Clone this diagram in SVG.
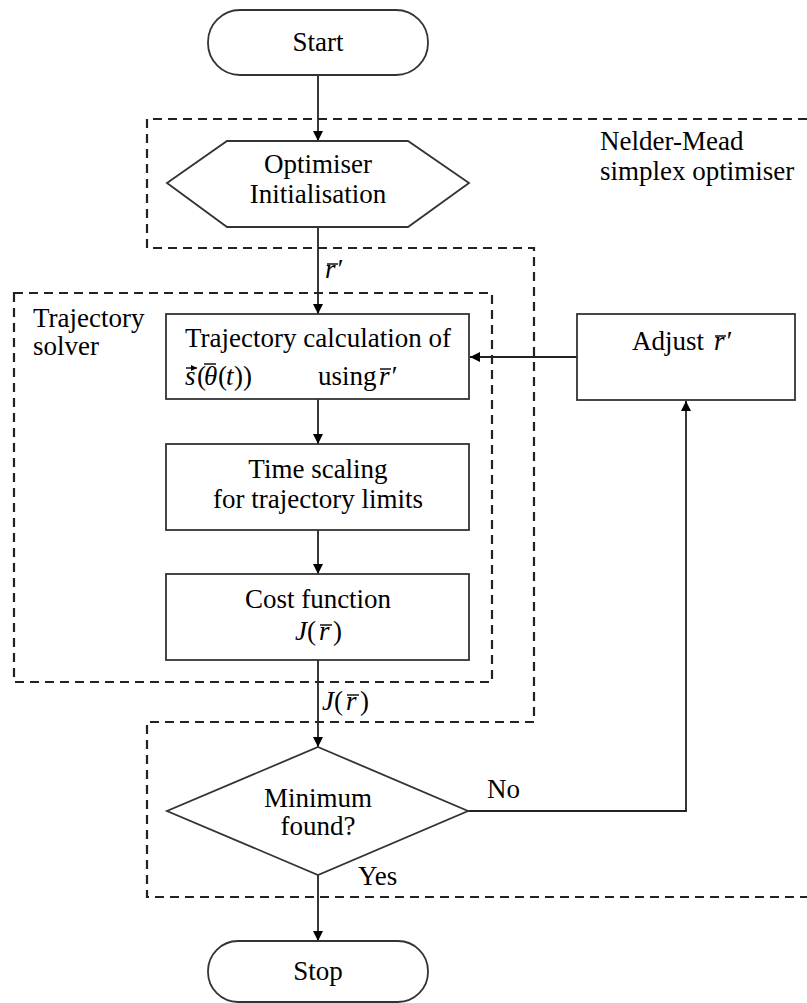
<svg xmlns="http://www.w3.org/2000/svg" width="807" height="1003" viewBox="0 0 807 1003">
<style>
.t{font-family:'Liberation Serif','Times New Roman','DejaVu Serif',serif;font-size:27px;fill:#000}
.m{font-family:'Liberation Serif','Times New Roman','DejaVu Serif',serif;font-size:27px;font-style:italic;fill:#000}
.c{text-anchor:middle}
.box{fill:#fff;stroke:#333;stroke-width:1.8}
.dash{fill:none;stroke:#222;stroke-width:2.2;stroke-dasharray:9,6}
.ln{fill:none;stroke:#222;stroke-width:1.8}
.bar{stroke:#000;stroke-width:1.4}
</style>
<defs>
<marker id="ah" viewBox="0 0 10 10" refX="10" refY="5" markerWidth="10" markerHeight="12" markerUnits="userSpaceOnUse" orient="auto">
<path d="M0,0 L10,5 L0,10 z" fill="#000"/>
</marker>
<marker id="ah2" viewBox="0 0 10 10" refX="10" refY="5" markerWidth="6" markerHeight="6" markerUnits="userSpaceOnUse" orient="auto">
<path d="M0,0 L10,5 L0,10 z" fill="#000"/>
</marker>
</defs>

<g id="regions">
<path class="dash" d="M807,119 L147,119 L147,248 L534,248 L534,722 L147,722 L147,897 L807,897"/>
<rect class="dash" x="14" y="293" width="478" height="389"/>
<text class="t" x="600" y="150">Nelder-Mead</text>
<text class="t" x="600" y="180">simplex optimiser</text>
<text class="t" x="33" y="327">Trajectory</text>
<text class="t" x="33" y="355">solver</text>
</g>

<g id="connectors">
<line class="ln" x1="318" y1="75" x2="318" y2="141" marker-end="url(#ah)"/>
<line class="ln" x1="318" y1="227" x2="318" y2="314" marker-end="url(#ah)"/>
<line class="ln" x1="318" y1="399" x2="318" y2="444" marker-end="url(#ah)"/>
<line class="ln" x1="318" y1="530" x2="318" y2="574" marker-end="url(#ah)"/>
<line class="ln" x1="318" y1="660" x2="318" y2="747" marker-end="url(#ah)"/>
<line class="ln" x1="318" y1="875" x2="318" y2="941" marker-end="url(#ah)"/>
<line class="ln" x1="577" y1="357" x2="470" y2="357" marker-end="url(#ah)"/>
<polyline class="ln" points="468,811 686,811 686,401" marker-end="url(#ah)"/>
<text class="m" x="325" y="278">r</text><text class="m" x="336" y="278">′</text>
<line class="bar" x1="327" y1="264" x2="338" y2="264"/>
<text class="m" x="322" y="710">J</text><text class="t" x="334" y="710">(</text><text class="m" x="346" y="710">r</text><text class="t" x="360" y="710">)</text>
<line class="bar" x1="347" y1="695" x2="359" y2="695"/>
<text class="t" x="487" y="798">No</text>
<text class="t" x="358" y="885">Yes</text>
</g>

<g id="start">
<rect class="box" x="208" y="10" width="220" height="65" rx="32" ry="32"/>
<text class="t c" x="318" y="51">Start</text>
</g>

<g id="init">
<polygon class="box" points="167,183 227,141 408,141 469,183 408,227 227,227"/>
<text class="t c" x="318" y="173">Optimiser</text>
<text class="t c" x="318" y="203">Initialisation</text>
</g>

<g id="trajcalc">
<rect class="box" x="166" y="314" width="303" height="85"/>
<text class="t c" x="318" y="347">Trajectory calculation of</text>
<text class="m" x="185" y="385">s</text>
<line class="bar" x1="186" y1="368" x2="197" y2="368" marker-end="url(#ah2)"/>
<text class="t" x="197" y="385">(</text>
<text class="m" x="204" y="385">θ</text>
<line class="bar" x1="204" y1="364" x2="216" y2="364"/>
<text class="t" x="218" y="385">(</text>
<text class="m" x="226" y="385">t</text>
<text class="t" x="234" y="385">))</text>
<text class="t" x="318" y="385">using</text>
<text class="m" x="379" y="385">r</text>
<text class="m" x="390" y="385">′</text>
<line class="bar" x1="380" y1="369" x2="391" y2="369"/>
</g>

<g id="timescale">
<rect class="box" x="166" y="444" width="303" height="86"/>
<text class="t c" x="318" y="478">Time scaling</text>
<text class="t c" x="318" y="508">for trajectory limits</text>
</g>

<g id="cost">
<rect class="box" x="166" y="574" width="303" height="86"/>
<text class="t c" x="318" y="608">Cost function</text>
<text class="m" x="295" y="640">J</text><text class="t" x="307" y="640">(</text><text class="m" x="319" y="640">r</text><text class="t" x="333" y="640">)</text>
<line class="bar" x1="320" y1="625" x2="332" y2="625"/>
</g>

<g id="adjust">
<rect class="box" x="577" y="314" width="218" height="86"/>
<text class="t" x="632" y="350">Adjust</text>
<text class="m" x="714" y="350">r</text><text class="m" x="725" y="350">′</text>
<line class="bar" x1="715" y1="336" x2="726" y2="336"/>
</g>

<g id="decision">
<polygon class="box" points="318,747 468,811 318,875 167,811"/>
<text class="t c" x="318" y="807">Minimum</text>
<text class="t c" x="318" y="835">found?</text>
</g>

<g id="stop">
<rect class="box" x="208" y="941" width="220" height="61" rx="30" ry="30"/>
<text class="t c" x="318" y="980">Stop</text>
</g>
</svg>
